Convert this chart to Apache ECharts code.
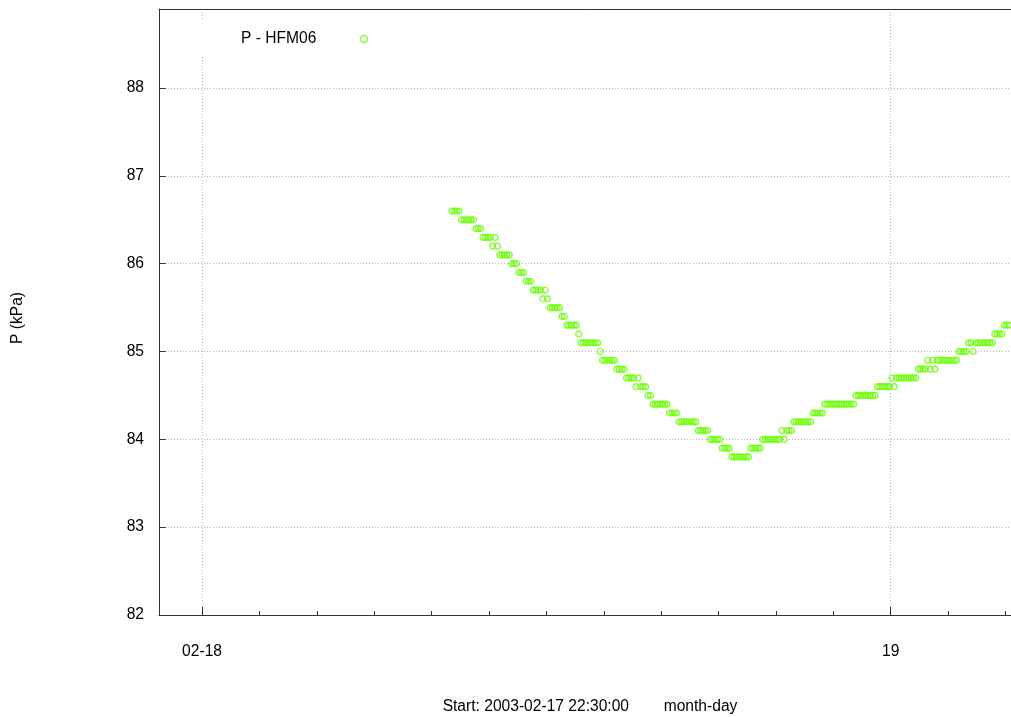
<!DOCTYPE html>
<html>
<head>
<meta charset="utf-8">
<script src="https://cdn.jsdelivr.net/npm/echarts@6/dist/echarts.min.js"></script>
<style>
  html, body { margin: 0; padding: 0; background: #fff; }
  #chart { width: 1011px; height: 717px; }
</style>
</head>
<body>
<div id="chart"></div>
<script>
// Barometric pressure logged at HFM06, one reading every 5 minutes.
const seriesName = 'P - HFM06';
const firstSample = Date.UTC(2003, 1, 18, 8, 42, 30);
const sampleStepMin = 5;
const pressureKPa = [
  86.6, 86.6, 86.6, 86.6,
  86.5, 86.5, 86.5, 86.5, 86.5, 86.5,
  86.4, 86.4, 86.4,
  86.3, 86.3, 86.3, 86.3, 86.2, 86.3, 86.2,
  86.1, 86.1, 86.1, 86.1, 86.1,
  86.0, 86.0, 86.0,
  85.9, 85.9, 85.9,
  85.8, 85.8, 85.8,
  85.7, 85.7, 85.7, 85.7, 85.6, 85.7, 85.6,
  85.5, 85.5, 85.5, 85.5, 85.5,
  85.4, 85.4,
  85.3, 85.3, 85.3, 85.3, 85.3,
  85.2,
  85.1, 85.1, 85.1, 85.1, 85.1, 85.1, 85.1, 85.1,
  85.0,
  84.9, 84.9, 84.9, 84.9, 84.9, 84.9,
  84.8, 84.8, 84.8, 84.8,
  84.7, 84.7, 84.7, 84.7, 84.6, 84.7,
  84.6, 84.6, 84.6,
  84.5, 84.5,
  84.4, 84.4, 84.4, 84.4, 84.4, 84.4, 84.4,
  84.3, 84.3, 84.3, 84.3,
  84.2, 84.2, 84.2, 84.2, 84.2, 84.2, 84.2, 84.2,
  84.1, 84.1, 84.1, 84.1, 84.1,
  84.0, 84.0, 84.0, 84.0, 84.0,
  83.9, 83.9, 83.9, 83.9,
  83.8, 83.8, 83.8, 83.8, 83.8, 83.8, 83.8, 83.8,
  83.9, 83.9, 83.9, 83.9, 83.9,
  84.0, 84.0, 84.0, 84.0, 84.0, 84.0, 84.0, 84.0, 84.1, 84.0,
  84.1, 84.1, 84.1,
  84.2, 84.2, 84.2, 84.2, 84.2, 84.2, 84.2, 84.2,
  84.3, 84.3, 84.3, 84.3, 84.3,
  84.4, 84.4, 84.4, 84.4, 84.4, 84.4, 84.4, 84.4, 84.4, 84.4, 84.4, 84.4, 84.4,
  84.5, 84.5, 84.5, 84.5, 84.5, 84.5, 84.5, 84.5, 84.5,
  84.6, 84.6, 84.6, 84.6, 84.6, 84.6, 84.7, 84.6,
  84.7, 84.7, 84.7, 84.7, 84.7, 84.7, 84.7, 84.7, 84.7,
  84.8, 84.8, 84.8, 84.8, 84.9, 84.8, 84.9, 84.8,
  84.9, 84.9, 84.9, 84.9, 84.9, 84.9, 84.9, 84.9, 84.9,
  85.0, 85.0, 85.0, 85.0,
  85.1, 85.1, 85.0,
  85.1, 85.1, 85.1, 85.1, 85.1, 85.1, 85.1, 85.1,
  85.2, 85.2, 85.2, 85.2,
  85.3, 85.3, 85.3, 85.3
];

// Axis extents and ticks
const axisStart = Date.UTC(2003, 1, 17, 22, 30, 0);
const axisEnd = Date.UTC(2003, 1, 19, 4, 11, 30);
const dayTicks = [Date.UTC(2003, 1, 18), Date.UTC(2003, 1, 19)];
const dayTickLabels = ['02-18', '19'];
const twoHourTicks = [0, 2, 4, 6, 8, 10, 12, 14, 16, 18, 20, 22, 24, 26, 28]
  .map(h => Date.UTC(2003, 1, 18) + h * 3600e3);
const pressureMin = 82;
const pressureMax = 88.9;
const xTitle = 'Start: 2003-02-17 22:30:00        month-day';
const yTitle = 'P (kPa)';

const green = '#66ff00';
const font = 'Liberation Sans, Arial, Helvetica, sans-serif';
const fontSize = 15.6;
const axisColor = '#333';
const gridLine = { show: true, lineStyle: { color: '#b8b8b8', width: 1, type: [1, 2] } };

const points = pressureKPa.map((v, i) => [firstSample + i * sampleStepMin * 60e3, v]);

const chart = echarts.init(document.getElementById('chart'), null, { renderer: 'canvas' });
chart.setOption({
  animation: false,
  backgroundColor: '#fff',
  textStyle: { fontFamily: font },
  grid: { left: 159, right: 0, top: 9, bottom: 102, containLabel: false, outerBoundsMode: 'none' },
  legend: {
    data: [seriesName],
    left: 196,
    top: 21,
    align: 'right',
    padding: [10, 12, 10, 45],
    backgroundColor: '#fff',
    itemWidth: 7,
    itemHeight: 7,
    icon: 'circle',
    selectedMode: false,
    itemStyle: { color: 'rgba(0,0,0,0)', borderColor: green, borderWidth: 1.4 },
    formatter: name => '{n|' + name + '}',
    textStyle: {
      fontFamily: font, fontSize: fontSize, color: '#000',
      rich: { n: { fontFamily: font, fontSize: fontSize, color: '#000', padding: [0, 39, 0, 0] } }
    }
  },
  xAxis: [
    {
      // major day ticks, labels and vertical grid lines
      type: 'value', min: axisStart, max: axisEnd, position: 'bottom', gridIndex: 0,
      axisLine: { show: true, onZero: false, lineStyle: { color: axisColor, width: 1 } },
      axisTick: { show: true, inside: true, length: 8, customValues: dayTicks, lineStyle: { color: axisColor } },
      axisLabel: {
        show: true, customValues: dayTicks, margin: 29,
        fontFamily: font, fontSize: fontSize, color: '#000',
        formatter: v => dayTickLabels[dayTicks.indexOf(v)] || ''
      },
      splitLine: gridLine,
      name: xTitle, nameLocation: 'middle', nameGap: 84,
      nameTextStyle: { fontFamily: font, fontSize: fontSize, color: '#000', padding: [0, 0, 0, 10] }
    },
    {
      // two-hourly minor ticks
      type: 'value', min: axisStart, max: axisEnd, position: 'bottom', gridIndex: 0,
      axisLine: { show: false, onZero: false },
      axisTick: { show: true, inside: true, length: 4, customValues: twoHourTicks, lineStyle: { color: axisColor } },
      axisLabel: { show: false },
      splitLine: { show: false }
    },
    {
      // top border
      type: 'value', min: axisStart, max: axisEnd, position: 'top', gridIndex: 0,
      axisLine: { show: true, onZero: false, lineStyle: { color: axisColor, width: 1 } },
      axisTick: { show: false }, axisLabel: { show: false }, splitLine: { show: false }
    }
  ],
  yAxis: {
    type: 'value', min: pressureMin, max: pressureMax, interval: 1,
    axisLine: { show: true, onZero: false, lineStyle: { color: axisColor, width: 1 } },
    axisTick: { show: true, inside: true, length: 7, lineStyle: { color: axisColor } },
    axisLabel: {
      margin: 15, fontFamily: font, fontSize: fontSize, color: '#000',
      formatter: v => (Math.abs(v - Math.round(v)) < 1e-6 ? String(Math.round(v)) : '')
    },
    splitLine: gridLine,
    name: yTitle, nameLocation: 'middle', nameGap: 133, nameRotate: 90,
    nameTextStyle: { fontFamily: font, fontSize: fontSize, color: '#000', padding: [0, 12, 0, 0] }
  },
  series: [{
    name: seriesName,
    type: 'scatter',
    xAxisIndex: 0,
    data: points,
    symbol: 'circle',
    symbolSize: 5.8,
    itemStyle: { color: 'rgba(0,0,0,0)', borderColor: green, borderWidth: 1.4 },
    emphasis: { disabled: true },
    silent: true,
    clip: true
  }]
});
</script>
</body>
</html>
